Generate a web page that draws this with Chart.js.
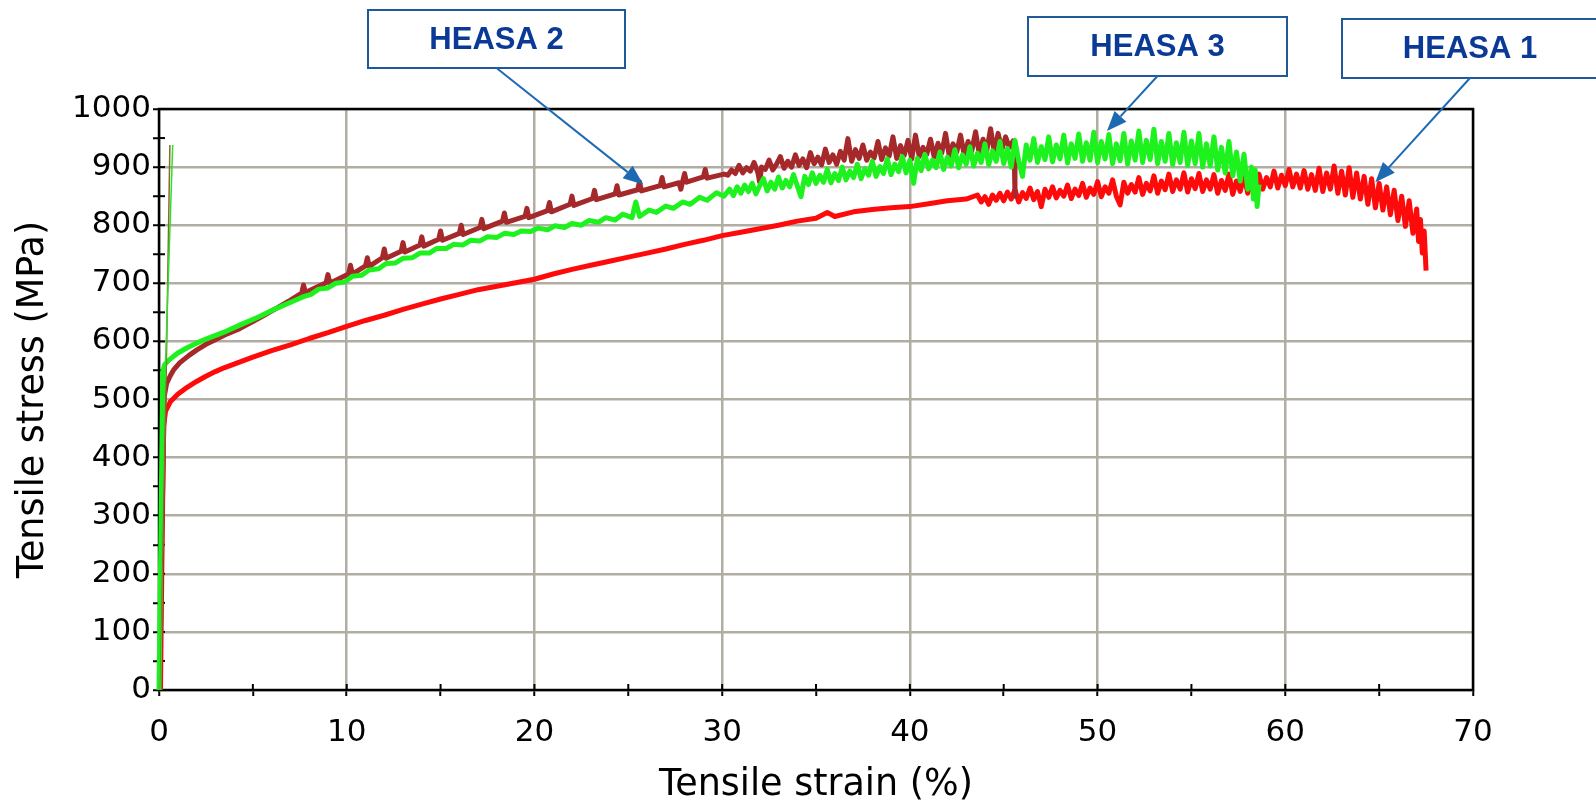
<!DOCTYPE html>
<html>
<head>
<meta charset="utf-8">
<script src="https://cdn.jsdelivr.net/npm/chart.js@4.4.1/dist/chart.umd.min.js"></script>
<style>
  html, body { margin: 0; padding: 0; background: #fff; }
  #wrap { width: 1596px; height: 807px; position: relative; }
</style>
</head>
<body>
<div id="wrap"><canvas id="chart"></canvas></div>
<script>
// [strain %, stress MPa]
const heasa1 = [
  [0.08,0],[0.16,240],[0.25,455],[0.35,480],[0.6,496],[1.0,509],[1.5,521],[2.0,531],[2.5,540],[3.0,548],
  [3.5,555],[4.0,561],[4.5,567],[5.0,573],[6.0,584],[7.0,594],[8.0,605],[9.0,615],[10.0,626],[11.0,636],
  [12.0,645],[13.0,655],[14.0,664],[15.0,673],[16.0,681],[17.0,689],[18.0,695],[19.0,701],[20.0,707],[21.0,716],
  [22.0,724],[23.0,731],[24.0,738],[25.0,745],[26.0,752],[27.0,759],[28.0,767],[29.0,774],[30.0,782],[31.0,788],
  [32.0,794],[33.0,800],[34.0,807],[35.0,812],[35.6,822],[36.0,815],[37.0,823],[38.0,827],[39.0,830],[40.0,832],
  [41.0,837],[42.0,842],[43.0,845],
  [43.6,852],[43.8,840],[44.0,849],[44.2,836],[44.4,852],[44.6,843],[44.8,855],[45.0,842],[45.2,857],[45.4,845],
  [45.6,861],[45.8,840],[46.0,856],[46.2,846],[46.4,864],[46.6,844],[46.8,858],[47.0,832],[47.2,862],[47.4,848],
  [47.6,866],[47.8,847],[48.0,860],[48.2,850],[48.4,869],[48.6,846],[48.8,862],[49.0,851],[49.2,872],[49.4,848],
  [49.6,864],[49.8,853],[50.0,875],[50.2,849],[50.4,866],[50.6,855],[50.8,878],[51.0,850],[51.2,835],[51.4,874],
  [51.6,855],[51.8,870],[52.0,857],[52.2,882],[52.4,853],[52.6,872],[52.8,859],[53.0,885],[53.2,855],[53.4,876],
  [53.6,861],[53.8,888],[54.0,858],[54.2,878],[54.4,862],[54.6,890],[54.8,857],[55.0,880],[55.2,863],[55.4,889],
  [55.6,858],[55.8,878],[56.0,862],[56.2,887],[56.4,855],[56.6,877],[56.8,860],[57.0,888],[57.2,853],[57.4,876],
  [57.6,858],[57.8,885],[58.0,855],[58.2,880],[58.4,861],[58.6,888],[58.8,862],[59.0,882],[59.2,866],[59.4,893],
  [59.6,864],[59.8,886],[60.0,868],[60.2,896],[60.4,866],[60.6,888],[60.8,864],[61.0,894],[61.2,862],[61.4,887],
  [61.6,860],[61.8,898],[62.0,858],[62.2,890],[62.4,862],[62.6,902],[62.8,855],[63.0,893],[63.2,852],[63.4,899],
  [63.6,848],[63.8,890],[64.0,845],[64.2,884],[64.4,836],[64.6,880],[64.8,830],[65.0,872],[65.2,826],[65.4,866],
  [65.6,818],[65.8,860],[66.0,808],[66.2,850],[66.4,798],[66.6,842],[66.8,786],[67.0,828],[67.1,772],[67.2,810],
  [67.3,752],[67.4,790],[67.5,722]
];

const heasa2 = [
  [0.03,0],[0.15,260],[0.28,505],[0.4,527],[0.6,541],[0.8,552],[1.1,563],[1.6,576],[2.0,585],[2.5,595],
  [3.0,603],[3.5,611],[4.3,622],[5.0,634],[5.6,645],[6.2,656],[7.0,671],
  [7.6,683],[7.7,697],[7.8,684],[8.9,701],[9.0,715],[9.1,700],[10.1,716],[10.2,731],[10.3,716],
  [11.0,730],[11.1,744],[11.2,729],[11.9,744],[12.0,759],[12.1,743],[12.9,755],[13.0,770],[13.1,754],
  [13.9,766],[14.0,780],[14.1,764],[14.9,776],[15.0,790],[15.1,774],[16.0,786],[16.1,800],[16.2,784],
  [17.1,796],[17.2,810],[17.3,794],[18.3,807],[18.4,821],[18.5,805],[19.5,815],[19.6,829],[19.7,813],
  [20.7,825],[20.8,839],[20.9,823],[21.9,836],[22.0,850],[22.1,834],[23.1,846],[23.2,860],[23.3,844],
  [24.3,854],[24.4,868],[24.5,852],[25.5,861],[25.6,875],[25.7,859],[26.7,868],[26.8,882],[26.9,866],
  [27.7,873],[27.8,862],[27.9,876],[28.0,889],[28.1,874],[29.0,883],[29.1,896],[29.2,881],[30.1,888],
  [30.3,886],[30.5,895],[30.7,889],[30.9,903],[31.1,890],[31.3,899],[31.5,893],[31.7,908],[31.9,891],[32.0,874],
  [32.1,900],[32.3,896],[32.5,912],[32.7,895],[32.9,905],[33.1,918],[33.3,898],[33.5,910],[33.7,900],[33.9,921],
  [34.1,903],[34.3,914],[34.5,899],[34.7,925],[34.9,906],[35.1,917],[35.3,904],[35.5,931],[35.7,908],[35.9,921],
  [36.1,905],[36.3,927],[36.5,912],[36.7,949],[36.9,910],[37.1,930],[37.3,915],[37.5,938],[37.7,912],[37.9,926],
  [38.1,916],[38.3,944],[38.5,913],[38.7,933],[38.9,919],[39.1,952],[39.3,915],[39.5,937],[39.7,920],[39.9,946],
  [40.1,914],[40.3,955],[40.5,918],[40.7,934],[40.9,922],[41.1,948],[41.3,917],[41.5,941],[41.7,924],[41.9,958],
  [42.1,919],[42.3,940],[42.5,926],[42.7,955],[42.9,920],[43.1,944],[43.3,928],[43.5,961],[43.7,922],[43.9,948],
  [44.1,929],[44.3,966],[44.5,925],[44.7,958],[44.9,930],[45.1,952],[45.3,934],[45.5,945],[45.55,935],[45.6,850]
];

const heasa3 = [
  [0.0,0],[0.1,260],[0.2,548],[0.3,560],[0.5,567],[0.8,575],[1.0,580],[1.5,589],[2.0,597],[2.5,604],
  [3.4,615],[4.3,628],[5.3,642],[6.2,656],[7.2,670],[7.7,677],[8.1,681],[8.5,690],[9.0,692],[9.4,700],
  [9.9,702],[10.3,712],[10.8,714],[11.2,723],[11.7,725],[12.1,734],[12.6,735],[13.0,743],[13.5,744],[13.9,752],
  [14.4,752],[14.8,760],[15.3,760],[15.7,767],[16.2,766],[16.6,774],[17.1,773],[17.5,780],[18.0,779],[18.4,786],
  [18.9,784],[19.3,790],[19.8,789],[20.2,795],[20.7,792],[21.1,799],[21.6,796],[22.0,803],[22.5,800],[22.9,808],
  [23.4,805],[23.8,813],[24.3,809],[24.7,819],[25.2,813],[25.4,840],[25.6,815],[26.1,826],[26.5,822],[27.0,833],
  [27.4,829],[27.9,840],[28.3,836],[28.8,848],[29.2,843],[29.7,856],[30.1,850],
  [30.4,862],[30.6,851],[30.8,866],[31.0,855],[31.2,869],[31.4,858],[31.6,872],[31.8,854],[32.0,868],[32.2,880],
  [32.4,859],[32.6,874],[32.8,862],[33.0,883],[33.2,864],[33.4,877],[33.6,866],[33.8,887],[34.0,868],[34.2,849],
  [34.4,884],[34.6,870],[34.8,890],[35.0,872],[35.2,886],[35.4,874],[35.6,896],[35.8,873],[36.0,889],[36.2,877],
  [36.4,900],[36.6,878],[36.8,893],[37.0,882],[37.2,905],[37.4,880],[37.6,897],[37.8,886],[38.0,910],[38.2,884],
  [38.4,901],[38.6,889],[38.8,914],[39.0,887],[39.2,905],[39.4,892],[39.6,918],[39.8,890],[40.0,912],[40.2,872],
  [40.4,915],[40.6,894],[40.8,922],[41.0,897],[41.2,912],[41.4,899],[41.6,926],[41.8,896],[42.0,917],[42.2,902],
  [42.4,930],[42.6,899],[42.8,921],[43.0,905],[43.2,935],[43.4,902],[43.6,924],[43.8,908],[44.0,940],[44.2,904],
  [44.4,928],[44.6,910],[44.8,944],[45.0,906],[45.2,932],[45.4,900],[45.6,946],[45.8,910],[46.0,884],[46.2,938],
  [46.4,912],[46.6,949],[46.8,908],[47.0,935],[47.2,913],[47.4,952],[47.6,909],[47.8,938],[48.0,914],[48.2,955],
  [48.4,907],[48.6,940],[48.8,915],[49.0,957],[49.2,910],[49.4,942],[49.6,912],[49.8,960],[50.0,908],[50.2,944],
  [50.4,914],[50.6,956],[50.8,906],[51.0,940],[51.2,911],[51.4,958],[51.6,905],[51.8,945],[52.0,912],[52.2,962],
  [52.4,908],[52.6,946],[52.8,913],[53.0,965],[53.2,906],[53.4,944],[53.6,910],[53.8,958],[54.0,904],[54.2,942],
  [54.4,908],[54.6,960],[54.8,903],[55.0,945],[55.2,906],[55.4,958],[55.6,900],[55.8,940],[56.0,902],[56.2,952],
  [56.4,895],[56.6,934],[56.8,890],[57.0,944],[57.2,885],[57.4,926],[57.6,876],[57.8,922],[58.0,862],[58.2,900],
  [58.3,845],[58.4,895],[58.5,832],[58.6,870]
];

// thin extensometer traces near the origin
const heasa2Thin = [[0.02,0],[0.35,477],[0.58,938]];
const heasa3Thin = [[0.0,0],[0.26,477],[0.73,938]];

const calloutNames = ['HEASA 2', 'HEASA 3', 'HEASA 1'];
const calloutStrain = [25.8, 50.5, 64.8];
const calloutStress = [870, 962, 874];

const xTitle = 'Tensile strain (%)';
const yTitle = 'Tensile stress (MPa)';

const toXY = arr => arr.map(p => ({ x: p[0], y: p[1] }));
const axisFont = { family: 'DejaVu Sans', size: 31 };
const titleFont = { family: 'DejaVu Sans', size: 36.5 };
const gridGray = '#b2ada2';

// frame, inner tick marks and the callout boxes
const decorations = {
  id: 'decorations',
  beforeDatasetsDraw(chart) {
    const { ctx, chartArea: a, scales } = chart;
    ctx.save();
    ctx.strokeStyle = '#000';
    ctx.lineWidth = 2;
    for (let v = 0; v <= 1000; v += 50) {
      const y = scales.y.getPixelForValue(v);
      ctx.beginPath(); ctx.moveTo(a.left, y); ctx.lineTo(a.left + 6, y); ctx.stroke();
    }
    for (let v = 0; v <= 70; v += 5) {
      const x = scales.x.getPixelForValue(v);
      ctx.beginPath(); ctx.moveTo(x, a.bottom); ctx.lineTo(x, a.bottom - 6); ctx.stroke();
    }
    ctx.lineWidth = 2.5;
    ctx.strokeRect(a.left, a.top, a.right - a.left, a.bottom - a.top);
    ctx.restore();
  },
  afterDraw(chart) {
    const { ctx, scales } = chart;
    const boxes = [
      { x: 368, y: 10, w: 257, h: 58 },
      { x: 1028, y: 17, w: 259, h: 59 },
      { x: 1342, y: 19, w: 258, h: 59 }
    ];
    ctx.save();
    calloutNames.forEach((name, i) => {
      const b = boxes[i];
      ctx.fillStyle = '#fff';
      ctx.fillRect(b.x, b.y, b.w, b.h);
      ctx.strokeStyle = '#20589a';
      ctx.lineWidth = 2;
      ctx.strokeRect(b.x, b.y, b.w, b.h);
      const cx = i === 2 ? 1470 : b.x + b.w / 2;
      ctx.fillStyle = '#0b3a96';
      ctx.font = 'bold 31px "Liberation Sans", Arial, sans-serif';
      ctx.textAlign = 'center';
      ctx.textBaseline = 'middle';
      ctx.fillText(name, cx, b.y + b.h / 2 + 1);

      // arrow from box to curve
      const sx = cx, sy = b.y + b.h;
      const tx = scales.x.getPixelForValue(calloutStrain[i]);
      const ty = scales.y.getPixelForValue(calloutStress[i]);
      const ang = Math.atan2(ty - sy, tx - sx);
      const len = 20, half = 8;
      const bx = tx - len * Math.cos(ang), by = ty - len * Math.sin(ang);
      ctx.strokeStyle = '#1d6ab3';
      ctx.fillStyle = '#1d6ab3';
      ctx.lineWidth = 2;
      ctx.beginPath(); ctx.moveTo(sx, sy); ctx.lineTo(bx, by); ctx.stroke();
      ctx.beginPath();
      ctx.moveTo(tx, ty);
      ctx.lineTo(bx + half * Math.sin(ang), by - half * Math.cos(ang));
      ctx.lineTo(bx - half * Math.sin(ang), by + half * Math.cos(ang));
      ctx.closePath();
      ctx.fill();
    });
    ctx.restore();
  }
};

new Chart(document.getElementById('chart'), {
  type: 'scatter',
  data: {
    datasets: [
      { label: 'HEASA 3 elastic', data: toXY(heasa3Thin), borderColor: '#2ee02e', borderWidth: 1.5, order: 0 },
      { label: 'HEASA 2 elastic', data: toXY(heasa2Thin), borderColor: '#8a6a2a', borderWidth: 1.5, order: 0 },
      { label: 'HEASA 3', data: toXY(heasa3), borderColor: '#1ef21e', borderWidth: 5, order: 1 },
      { label: 'HEASA 2', data: toXY(heasa2), borderColor: '#a5282a', borderWidth: 5, order: 2 },
      { label: 'HEASA 1', data: toXY(heasa1), borderColor: '#ff0a0a', borderWidth: 5, order: 3 }
    ].map(d => Object.assign(d, { showLine: true, pointRadius: 0, tension: 0, clip: false, borderJoinStyle: 'round' }))
  },
  options: {
    responsive: true,
    maintainAspectRatio: false,
    animation: false,
    layout: { padding: { top: 109, right: 123, left: 0, bottom: 0 } },
    plugins: { legend: { display: false }, tooltip: { enabled: false } },
    scales: {
      x: {
        type: 'linear', min: 0, max: 70,
        afterFit: s => { s.height = 117; },
        ticks: {
          stepSize: 5, autoSkip: false, maxRotation: 0, padding: 18,
          color: '#000', font: axisFont,
          callback: v => (v % 10 === 0 ? v : '')
        },
        grid: {
          color: c => (c.tick && c.tick.value % 10 === 0 ? gridGray : 'rgba(0,0,0,0)'),
          lineWidth: 2.5, tickLength: 6, tickColor: '#000', tickWidth: 2
        },
        border: { display: false },
        title: { display: true, text: xTitle, color: '#000', font: titleFont, padding: { top: 0, bottom: 0 } }
      },
      y: {
        type: 'linear', min: 0, max: 1000,
        afterFit: s => { s.width = 159; },
        ticks: {
          stepSize: 50, autoSkip: false, padding: 2,
          color: '#000', font: axisFont,
          callback: v => (v % 100 === 0 ? v : '')
        },
        grid: {
          color: c => (c.tick && c.tick.value % 100 === 0 ? gridGray : 'rgba(0,0,0,0)'),
          lineWidth: 2.5, tickLength: 6, tickColor: '#000', tickWidth: 2
        },
        border: { display: false },
        title: { display: true, text: yTitle, color: '#000', font: titleFont, padding: { top: 12, bottom: 0 } }
      }
    }
  },
  plugins: [decorations]
});
</script>
</body>
</html>
